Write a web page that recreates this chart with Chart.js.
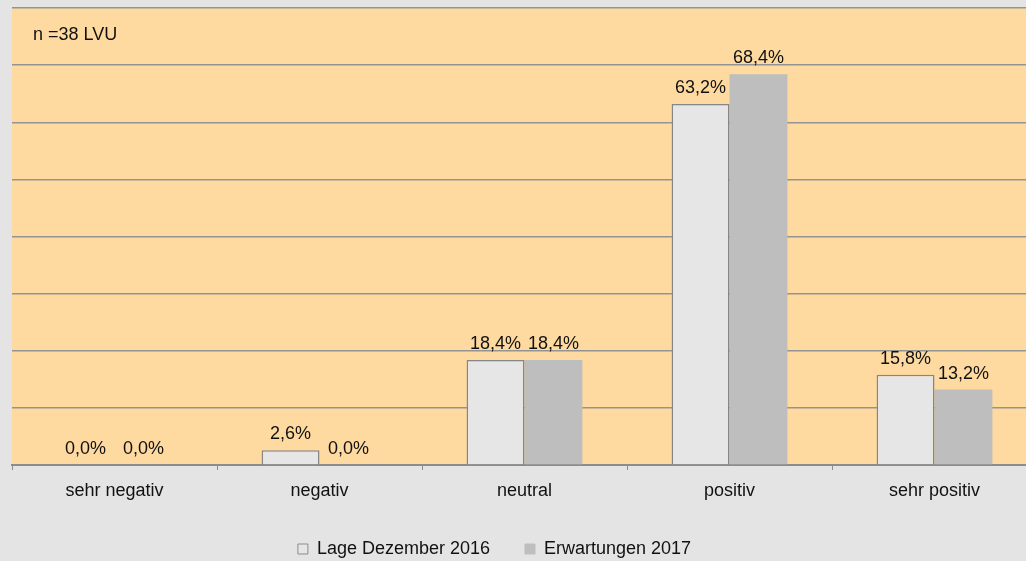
<!DOCTYPE html>
<html>
<head>
<meta charset="utf-8">
<script src="https://cdn.jsdelivr.net/npm/chart.js@4.4.1/dist/chart.umd.min.js"></script>
<style>
    body { margin: 0; background: #e4e4e4; overflow: hidden; }
    #wrap { position: absolute; left: 0; top: 0; width: 1037px; height: 561px; }
</style>
</head>
<body>
<div id="wrap"><canvas id="lvuchart"></canvas></div>
<script>
//DATA ------------------------------------------------------------
var categories = ["sehr negativ", "negativ", "neutral", "positiv", "sehr positiv"];
var lage2016 = [0.0, 2.6, 18.4, 63.2, 15.8];
var erwartungen2017 = [0.0, 0.0, 18.4, 68.4, 13.2];
var seriesNames = ["Lage Dezember 2016", "Erwartungen 2017"];
var noteText = "n =38 LVU";

var labelFont = "18px 'Liberation Sans', Arial, sans-serif";

//orange plot background + note text
const plotBackground = {
    id: "plotBackground",
    beforeDraw: function (chart) {
        var a = chart.chartArea;
        var ctx = chart.ctx;
        ctx.save();
        ctx.fillStyle = "#ffdaa0";
        ctx.fillRect(a.left, a.top, a.right - a.left, a.bottom - a.top);
        ctx.restore();
    },
    afterDraw: function (chart) {
        var ctx = chart.ctx;
        ctx.save();
        ctx.font = labelFont;
        ctx.fillStyle = "#111";
        ctx.textBaseline = "alphabetic";
        ctx.fillText(noteText, chart.chartArea.left + 21, 40);
        ctx.restore();
    }
};

//values on top of the bars
const valueLabels = {
    id: "valueLabels",
    afterDatasetsDraw: function (chart) {
        var ctx = chart.ctx;
        ctx.save();
        ctx.font = labelFont;
        ctx.fillStyle = "#111";
        ctx.textAlign = "center";
        ctx.textBaseline = "alphabetic";
        chart.data.datasets.forEach(function (ds, i) {
            chart.getDatasetMeta(i).data.forEach(function (bar, j) {
                var txt = ds.data[j].toFixed(1).replace(".", ",") + "%";
                ctx.fillText(txt, bar.x, bar.y - 11);
            });
        });
        ctx.restore();
    }
};

//move legend a bit (it sits left of centre in the original)
const legendNudge = {
    id: "legendNudge",
    afterLayout: function (chart) {
        var lg = chart.legend;
        lg.left -= 30;
        lg.right -= 30;
    }
};

new Chart("lvuchart", {
    type: "bar",
    data: {
        labels: categories,
        datasets: [{
            label: seriesNames[0],
            data: lage2016,
            backgroundColor: "#e6e6e6",
            borderColor: "#868686",
            borderWidth: 1.5
        }, {
            label: seriesNames[1],
            data: erwartungen2017,
            backgroundColor: "#bebebe",
            borderWidth: 0
        }]
    },
    options: {
        responsive: true,
        maintainAspectRatio: false,
        animation: false,
        layout: { padding: { left: 12, top: 8, right: 0, bottom: -7 } },
        datasets: { bar: { categoryPercentage: 0.565, barPercentage: 1.0 } },
        scales: {
            x: {
                grid: { offset: true, drawOnChartArea: false, drawTicks: true, tickLength: 5, color: "#8c8c8c" },
                border: { color: "#8c8c8c", width: 2 },
                ticks: { color: "#111", font: { family: "'Liberation Sans', Arial, sans-serif", size: 18 }, padding: 10 },
                afterFit: function (s) { s.height = 40; }
            },
            y: {
                min: 0,
                max: 80,
                ticks: { display: false, stepSize: 10 },
                grid: { color: "#939393", lineWidth: 1.5, drawTicks: false },
                border: { display: false },
                afterFit: function (s) { s.width = 0; }
            }
        },
        plugins: {
            legend: {
                position: "bottom",
                labels: {
                    boxWidth: 10,
                    boxHeight: 10,
                    padding: 35,
                    color: "#111",
                    font: { family: "'Liberation Sans', Arial, sans-serif", size: 18 },
                    generateLabels: function (chart) {
                        return chart.data.datasets.map(function (ds, i) {
                            return {
                                text: ds.label,
                                fillStyle: ds.backgroundColor,
                                strokeStyle: i == 0 ? "#8c8c8c" : ds.backgroundColor,
                                lineWidth: 1,
                                fontColor: "#111",
                                datasetIndex: i
                            };
                        });
                    }
                }
            },
            tooltip: { enabled: false }
        }
    },
    plugins: [plotBackground, valueLabels, legendNudge]
});
</script>
</body>
</html>
